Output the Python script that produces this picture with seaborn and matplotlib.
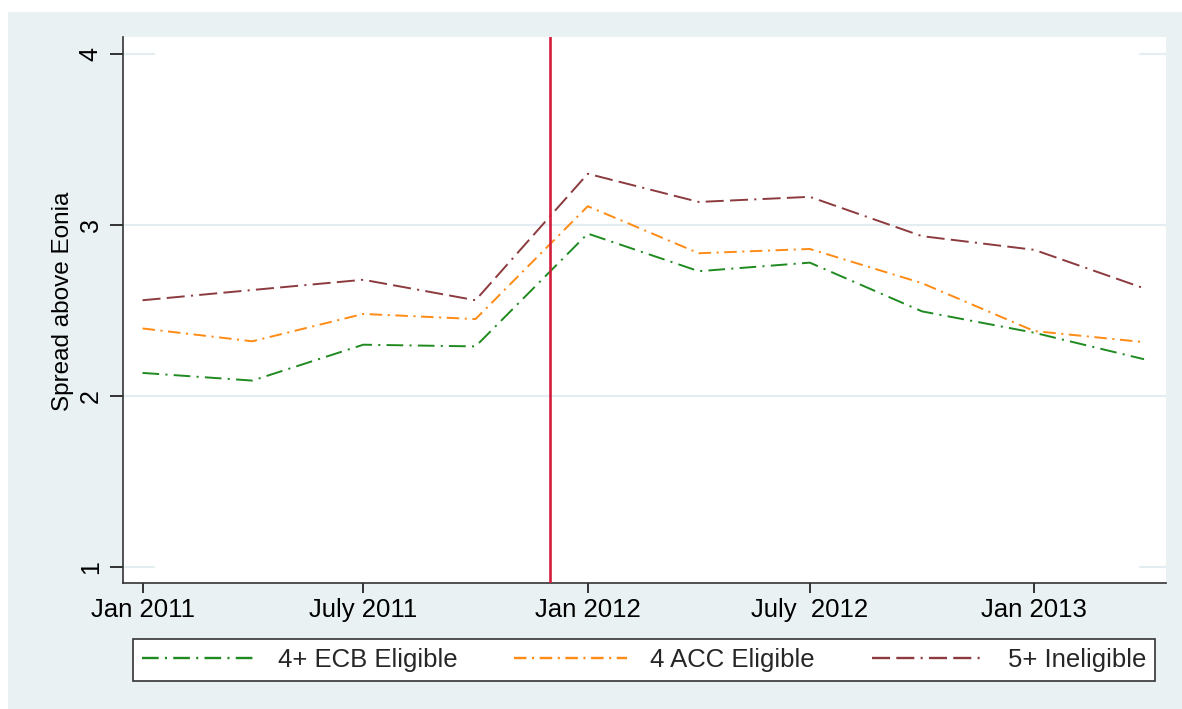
import pandas as pd
import matplotlib
matplotlib.use("Agg")
import matplotlib.pyplot as plt
import seaborn as sns
from matplotlib.patches import Rectangle

# ==================================================
# 1. Data (quarterly spreads)
# ==================================================
dates = ["2011-01-01", "2011-04-01", "2011-07-01", "2011-10-01", "2012-01-01",
         "2012-04-01", "2012-07-01", "2012-10-01", "2013-01-01", "2013-04-01"]
ecb_eligible = [2.135, 2.09, 2.30, 2.29, 2.95, 2.73, 2.78, 2.495, 2.37, 2.215]
acc_eligible = [2.395, 2.32, 2.48, 2.45, 3.11, 2.835, 2.86, 2.66, 2.38, 2.315]
ineligible = [2.56, 2.62, 2.68, 2.56, 3.30, 3.135, 3.165, 2.935, 2.855, 2.63]

groups = ["4+ ECB Eligible", "4 ACC Eligible", "5+ Ineligible"]
tick_dates = ["2011-01-01", "2011-07-01", "2012-01-01", "2012-07-01", "2013-01-01"]
tick_labels = ["Jan 2011", "July 2011", "Jan 2012", "July  2012", "Jan 2013"]
ltro_date = "2011-12-01"

df = pd.DataFrame({
    "date": pd.to_datetime(dates * 3),
    "spread": ecb_eligible + acc_eligible + ineligible,
    "group": [g for g in groups for _ in dates],
})

# ==================================================
# 2. Style
# ==================================================
sns.set_theme(style="white")
plt.rcParams["font.family"] = ["Liberation Sans", "DejaVu Sans"]
plt.rcParams["lines.scale_dashes"] = False

bg = "#EAF1F3"
palette = {groups[0]: "#1F8A1F", groups[1]: "#FF8A14", groups[2]: "#8C3A3E"}
dashes = {groups[0]: (12, 4.5, 1.5, 4.5),
          groups[1]: (9, 4, 1.5, 4),
          groups[2]: (13, 4.5, 13, 4.5, 1.5, 4.5)}

fig = plt.figure(figsize=(11.82, 7.09), dpi=100, facecolor="white")
fig.patches.append(Rectangle((8 / 1182, 0), 1, 1 - 12 / 709, transform=fig.transFigure,
                             facecolor=bg, edgecolor="none", zorder=-10))
ax = fig.add_axes([123 / 1182, 1 - 583 / 709, (1166 - 123) / 1182, (583 - 37) / 709])
ax.set_facecolor("white")

# ==================================================
# 3. Lines
# ==================================================
for y in [2, 3]:
    ax.axhline(y, color="#E4EDF1", lw=1.6, zorder=0)
for y in [1, 4]:
    ax.axhline(y, xmax=0.03, color="#E4EDF1", lw=1.6, zorder=0)
    ax.axhline(y, xmin=0.975, color="#E4EDF1", lw=1.6, zorder=0)

sns.lineplot(data=df, x="date", y="spread", hue="group", style="group",
             hue_order=groups, style_order=groups, palette=palette,
             dashes=dashes, linewidth=1.4, ax=ax)

ax.axvline(pd.Timestamp(ltro_date), color="#D21E3C", lw=1.9, zorder=5)

# ==================================================
# 4. Axes
# ==================================================
ax.set_xlim(pd.Timestamp("2010-12-16"), pd.Timestamp("2013-04-19"))
ax.set_ylim(0.906, 4.10)
ax.set_xticks(pd.to_datetime(tick_dates))
ax.set_xticklabels(tick_labels)
ax.set_yticks([1, 2, 3, 4])
ax.set_yticklabels(["1", "2", "3", "4"])
ax.tick_params(axis="x", direction="out", length=7, width=1.1, pad=4,
               labelsize=18.5, colors="black", bottom=True)
ax.tick_params(axis="y", direction="out", length=9.5, width=1.1, pad=5,
               labelsize=18, labelrotation=90, colors="black", left=True)
for lab in ax.get_yticklabels():
    lab.set_verticalalignment("center")

ax.set_xlabel("")
ax.set_ylabel("Spread above Eonia", fontsize=17.5, color="black")
ax.yaxis.set_label_coords(-0.047, 0.515)

for side in ["top", "right"]:
    ax.spines[side].set_visible(False)
for side in ["left", "bottom"]:
    ax.spines[side].set_color("#333333")
    ax.spines[side].set_linewidth(1.2)

# ==================================================
# 5. Legend
# ==================================================
old = ax.get_legend()
handles = old.legend_handles
labels = [t.get_text() for t in old.get_texts()]
old.remove()
leg = ax.legend(handles, labels, ncol=3, loc="center", mode="expand",
                bbox_to_anchor=(0.0096, -0.1832, 0.98, 0.0842), borderaxespad=0,
                fontsize=18.5, handlelength=4.4, handletextpad=0.9,
                fancybox=False, frameon=True, framealpha=1, borderpad=0.35)
leg.get_frame().set_facecolor("white")
leg.get_frame().set_edgecolor("#333333")
leg.get_frame().set_linewidth(1.2)
for h in leg.legend_handles:
    h.set_linewidth(1.7)

fig.savefig("out.png", dpi=100, facecolor=fig.get_facecolor())
plt.close(fig)
